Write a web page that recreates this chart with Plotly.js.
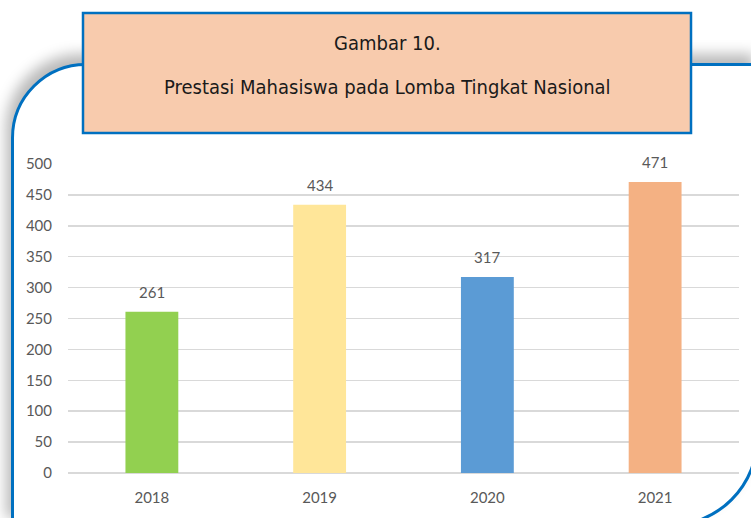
<!DOCTYPE html>
<html>
<head>
<meta charset="utf-8">
<script src="https://cdn.plot.ly/plotly-3.0.1.min.js"></script>
<style>
  html, body { margin: 0; padding: 0; width: 751px; height: 518px; overflow: hidden; background: #fff; }
  #frame {
    position: absolute; left: 11px; top: 63px; width: 748px; height: 464px;
    border: 3px solid #0070C0; border-radius: 75px 0 0 0;
    border-bottom-right-radius: 90px;
    box-shadow: -5px -9px 14px rgba(0,0,0,0.28);
    background: #fff; box-sizing: border-box;
  }
  #chart { position: absolute; left: 0; top: 0; width: 751px; height: 518px; }
</style>
</head>
<body>
<div id="frame"></div>
<div id="chart"></div>
<script>
const years = ['2018', '2019', '2020', '2021'];
const counts = [261, 434, 317, 471];
const barColors = ['#92D050', '#FFE699', '#5B9BD5', '#F4B183'];
const yTicks = [0, 50, 100, 150, 200, 250, 300, 350, 400, 450, 500];
const titleLine1 = 'Gambar 10.';
const titleLine2 = 'Prestasi Mahasiswa pada Lomba Tingkat Nasional';

const W = 751, H = 518;
const L = 68, R = 12, T = 164, B = 45;
const pw = W - L - R, ph = H - T - B;
const px = v => (v - L) / pw;
const py = v => (H - B - v) / ph;
const titleFont = { family: '"DejaVu Sans Condensed", sans-serif', size: 20, color: '#1a1a1a' };

const trace = {
  type: 'bar', x: years, y: counts,
  marker: { color: barColors },
  hoverinfo: 'none'
};

const annotations = years.map((yr, i) => ({
  x: i, y: counts[i], xref: 'x', yref: 'y',
  text: String(counts[i]), showarrow: false,
  yanchor: 'bottom', yshift: 9,
  font: { family: 'Lato, sans-serif', size: 15, color: '#595959' }
}));
annotations.push({
  xref: 'paper', yref: 'paper', x: px(387), y: py(43),
  text: titleLine1, showarrow: false, xanchor: 'center', yanchor: 'middle',
  font: titleFont
});
annotations.push({
  xref: 'paper', yref: 'paper', x: px(387), y: py(87),
  text: titleLine2, showarrow: false, xanchor: 'center', yanchor: 'middle',
  font: titleFont
});

const layout = {
  width: W, height: H,
  margin: { l: L, r: R, t: T, b: B, pad: 0 },
  paper_bgcolor: 'rgba(0,0,0,0)', plot_bgcolor: 'rgba(0,0,0,0)',
  showlegend: false,
  bargap: 0.685,
  xaxis: {
    type: 'category', range: [-0.5, 3.5], autorange: false,
    showgrid: false, zeroline: false, showline: false,
    ticks: 'outside', ticklen: 11, tickcolor: 'rgba(0,0,0,0)',
    tickfont: { family: 'Lato, sans-serif', size: 15, color: '#595959' }
  },
  yaxis: {
    range: [0, 500], autorange: false, tickvals: yTicks, ticktext: yTicks.map(String),
    showgrid: true, gridcolor: '#D9D9D9', gridwidth: 1.5,
    zeroline: true, zerolinecolor: '#D9D9D9', zerolinewidth: 1.5,
    showline: false, ticks: 'outside', ticklen: 12, tickcolor: 'rgba(0,0,0,0)',
    tickfont: { family: 'Lato, sans-serif', size: 15, color: '#595959' }
  },
  shapes: [{
    type: 'rect', xref: 'paper', yref: 'paper', layer: 'above',
    x0: px(83), x1: px(691), y0: py(133), y1: py(13),
    fillcolor: '#F8CBAD', line: { color: '#0070C0', width: 2.5 }
  }],
  annotations: annotations
};

Plotly.newPlot('chart', [trace], layout, { displayModeBar: false, staticPlot: true });
</script>
</body>
</html>
